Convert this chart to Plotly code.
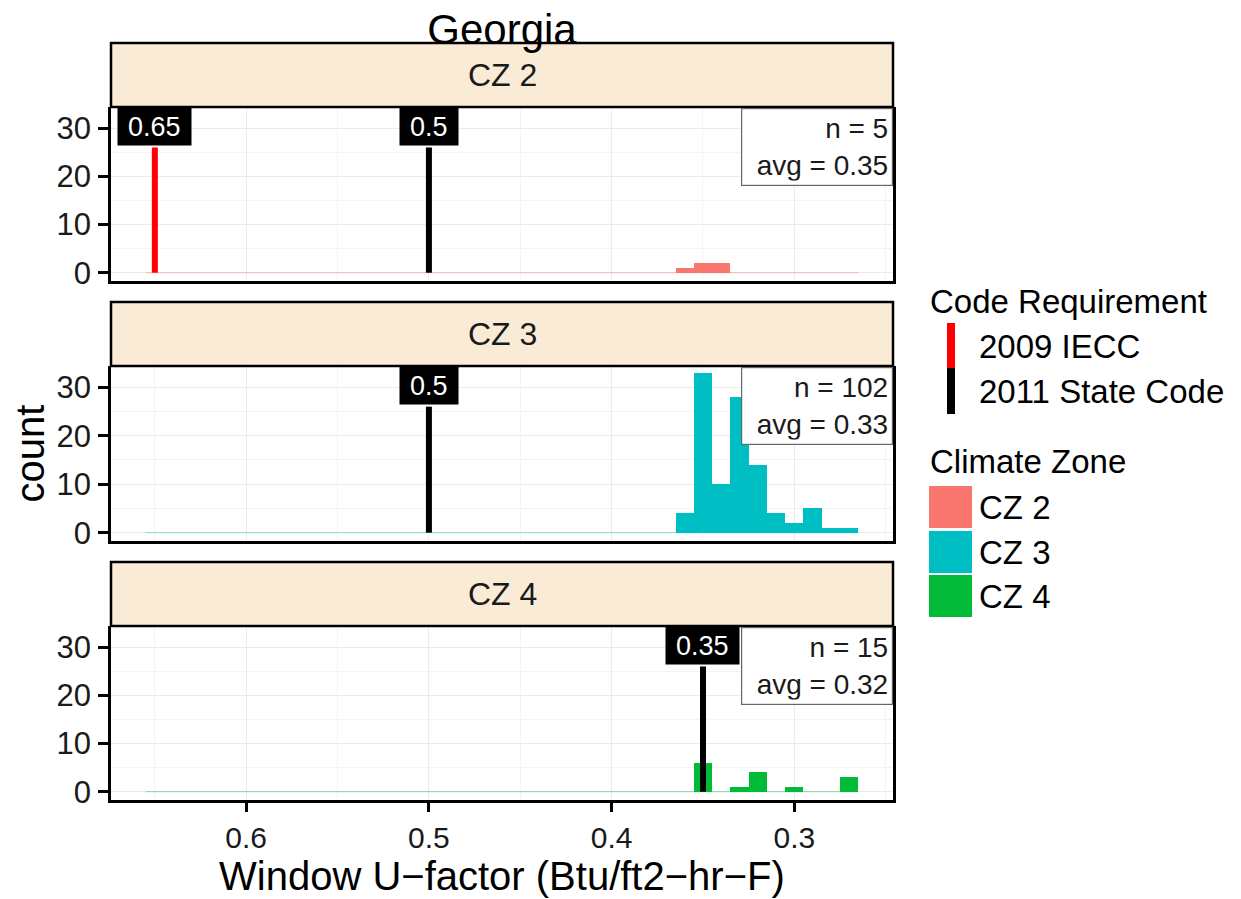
import plotly.graph_objects as go
from plotly.subplots import make_subplots

# facets / histogram data
zones = ["CZ 2", "CZ 3", "CZ 4"]
zone_colors = ["#F8766D", "#00BFC4", "#00BA38"]
bin_centers = [0.36, 0.35, 0.34, 0.33, 0.32, 0.31, 0.30, 0.29, 0.28, 0.27]
counts_cz2 = [1, 2, 2, 0, 0, 0, 0, 0, 0, 0]
counts_cz3 = [4, 33, 10, 28, 14, 4, 2, 5, 1, 1]
counts_cz4 = [0, 6, 0, 1, 4, 0, 1, 0, 0, 3]
bin_width = 0.01
hist_span = [0.655, 0.265]  # extent of the (mostly empty) bins

# code requirement lines
code_names = ["2009 IECC", "2011 State Code"]
code_colors = ["#FF0000", "#000000"]
iecc_values = [0.65, None, None]
state_values = [0.5, 0.5, 0.35]
code_line_top = 26

# per-facet summary
stats_n = [5, 102, 15]
stats_avg = [0.35, 0.33, 0.32]

x_ticks = [0.6, 0.5, 0.4, 0.3]
y_ticks = [0, 10, 20, 30]

FONT = "Liberation Sans, Arial, sans-serif"
# the page body has an 8px margin, so the figure is drawn 8px in from the corner
OFF = 8
W, H = 1241 - OFF, 899 - OFF
PL, PR, PT, PB = 111, 893, 43, 800  # plot area in page pixels
ML, MR, MT, MB = PL - OFF, W - (PR - OFF), PT - OFF, H - (PB - OFF)


def px(x):
    return (x - PL) / (PR - PL)


def py(y):
    return (PB - y) / (PB - PT)


counts = [counts_cz2, counts_cz3, counts_cz4]
panel_px = [(107, 281), (366, 541), (626, 800)]
strip_h = 64
LABEL_SIZE = 27

fig = make_subplots(rows=3, cols=1, shared_xaxes=True)

for i, zone in enumerate(zones):
    row = i + 1
    color = zone_colors[i]
    # thin baseline of empty bins
    fig.add_trace(
        go.Scatter(x=hist_span, y=[0, 0], mode="lines",
                   line=dict(color=color, width=1), opacity=0.45,
                   hoverinfo="skip", showlegend=False),
        row=row, col=1,
    )
    fig.add_trace(
        go.Bar(x=bin_centers, y=counts[i], width=bin_width,
               marker=dict(color=color, line=dict(width=0)),
               name=zone, showlegend=False),
        row=row, col=1,
    )
    xref = "x" if row == 1 else f"x{row}"
    yref = "y" if row == 1 else f"y{row}"
    for name, val_list, lc in [(code_names[0], iecc_values, code_colors[0]),
                               (code_names[1], state_values, code_colors[1])]:
        v = val_list[i]
        if v is None:
            continue
        fig.add_trace(
            go.Scatter(x=[v, v], y=[0, code_line_top], mode="lines",
                       line=dict(color=lc, width=6), name=name, showlegend=False),
            row=row, col=1,
        )
        label = f"{v:g}"
        # rough text width so the black box hugs the label like geom_label
        box_w = LABEL_SIZE * (0.556 * (len(label) - 1) + 0.278) + 12
        fig.add_annotation(
            x=v, y=30.4, xref=xref, yref=yref, text=label,
            xanchor="center", yanchor="middle",
            showarrow=False, font=dict(family=FONT, size=LABEL_SIZE, color="white"),
            bgcolor="black", borderpad=4, width=box_w, height=29,
        )
    # n / avg box
    fig.add_annotation(
        x=1, y=1, xref=f"{xref} domain", yref=f"{yref} domain",
        xanchor="right", yanchor="top", yshift=-1,
        text=f"n = {stats_n[i]}<br>avg = {stats_avg[i]:.2f}", align="right",
        showarrow=False, font=dict(family=FONT, size=28, color="#1a1a1a"),
        bgcolor="white", bordercolor="#666666", borderwidth=1.2,
        borderpad=4, width=142,
    )
    # facet strip
    top, bottom = panel_px[i]
    fig.add_shape(type="rect", xref="paper", yref="paper",
                  x0=0, x1=1, y0=py(top), y1=py(top - strip_h),
                  fillcolor="#FAEBD7", line=dict(color="black", width=2.5))
    fig.add_annotation(x=0.5, y=py(top - strip_h / 2), xref="paper", yref="paper",
                       xanchor="center", yanchor="middle",
                       text=zone, showarrow=False,
                       font=dict(family=FONT, size=32, color="#1a1a1a"))

    axis_x = dict(
        range=[0.674, 0.246], tickvals=x_ticks, showgrid=True,
        gridcolor="#EBEBEB", gridwidth=1.3, zeroline=False, automargin=False,
        minor=dict(tickvals=[0.65, 0.55, 0.45, 0.35, 0.25], showgrid=True,
                   gridcolor="#F4F4F4", gridwidth=0.9),
        showline=True, linecolor="black", linewidth=2.5,
    )
    if row == 3:
        axis_x.update(ticks="outside", ticklen=9, tickwidth=2.5, tickcolor="black",
                      showticklabels=True,
                      tickfont=dict(family=FONT, size=30, color="#1a1a1a"))
    else:
        axis_x.update(ticks="", showticklabels=False)
    axis_y = dict(
        domain=[py(bottom), py(top)], range=[-1.72, 34.4], tickvals=y_ticks,
        showgrid=True, gridcolor="#EBEBEB", gridwidth=1.3, zeroline=False,
        automargin=False,
        minor=dict(tickvals=[5, 15, 25], showgrid=True,
                   gridcolor="#F4F4F4", gridwidth=0.9),
        ticks="outside", ticklen=10, tickwidth=2.5, tickcolor="black",
        ticklabelstandoff=1,
        tickfont=dict(family=FONT, size=31, color="#1a1a1a"),
        showline=True, mirror=True, linecolor="black", linewidth=2.5,
    )
    if row == 2:
        axis_y["title"] = dict(text="count", standoff=12,
                               font=dict(family=FONT, size=40, color="black"))
    fig.update_xaxes(axis_x, row=row, col=1)
    fig.update_yaxes(axis_y, row=row, col=1)

# x-axis title placed explicitly below the bottom panel
fig.add_annotation(x=0.5, y=py(876), xref="paper", yref="paper",
                   xanchor="center", yanchor="middle", showarrow=False,
                   text="Window U\u2212factor (Btu/ft2\u2212hr\u2212F)",
                   font=dict(family=FONT, size=40, color="black"))

# legend drawn by hand (vertical line keys like the original)
LEG = dict(family=FONT, size=33, color="black")
fig.add_annotation(x=px(928), y=py(301), xref="paper", yref="paper",
                   xanchor="left", yanchor="middle", text="Code Requirement",
                   showarrow=False, font=LEG)
key_rows = [(323, 368, 346), (368, 414, 391)]
for name, lc, (k0, k1, ty) in zip(code_names, code_colors, key_rows):
    fig.add_shape(type="rect", xref="paper", yref="paper",
                  x0=px(947), x1=px(955), y0=py(k1), y1=py(k0),
                  fillcolor=lc, line=dict(width=0))
    fig.add_annotation(x=px(977), y=py(ty), xref="paper", yref="paper",
                       xanchor="left", yanchor="middle", text=name,
                       showarrow=False, font=LEG)

fig.add_annotation(x=px(928), y=py(462), xref="paper", yref="paper",
                   xanchor="left", yanchor="middle", text="Climate Zone",
                   showarrow=False, font=LEG)
sq_rows = [(486, 528), (531, 573), (575, 617)]
for zone, color, (s0, s1) in zip(zones, zone_colors, sq_rows):
    fig.add_shape(type="rect", xref="paper", yref="paper",
                  x0=px(929), x1=px(972), y0=py(s1), y1=py(s0),
                  fillcolor=color, line=dict(width=0))
    fig.add_annotation(x=px(977), y=py((s0 + s1) / 2), xref="paper", yref="paper",
                       xanchor="left", yanchor="middle", text=zone,
                       showarrow=False, font=LEG)

fig.update_layout(
    width=W, height=H,
    margin=dict(l=ML, r=MR, t=MT, b=MB, autoexpand=False),
    paper_bgcolor="white", plot_bgcolor="white",
    bargap=0, showlegend=False,
    title=dict(text="Georgia", x=0.5, xref="paper", xanchor="center",
               y=1 - (29 - OFF) / H, yref="container", yanchor="middle",
               font=dict(family=FONT, size=42, color="black")),
)

fig.write_html("out.html")
